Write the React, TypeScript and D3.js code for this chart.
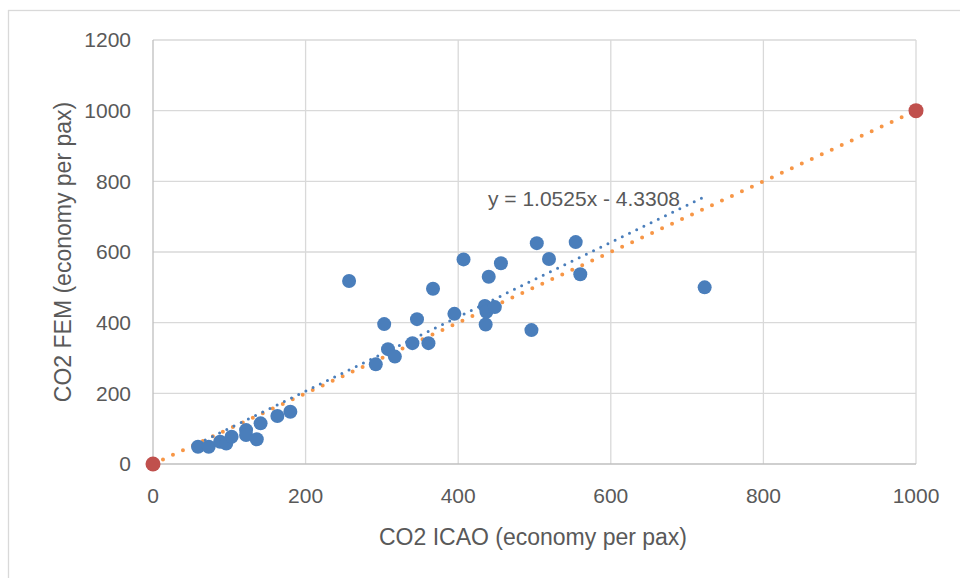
import React from 'react';
import * as d3 from 'd3';

// CO2 ICAO vs CO2 FEM (economy per pax)
const icaoValues = [59, 73, 88, 96, 103, 122, 122, 136, 141, 163, 180, 257, 292, 303, 308, 317, 340, 346, 361, 367, 395, 407, 435, 436, 437, 440, 448, 456, 496, 503, 519, 554, 560, 723];
const femValues = [49, 49, 63, 58, 77, 96, 82, 70, 115, 136, 148, 518, 282, 396, 325, 304, 342, 410, 342, 496, 425, 579, 447, 395, 431, 530, 444, 568, 379, 625, 580, 628, 537, 500];

// reference series (1:1 line)
const refX = [0, 1000];
const refY = [0, 1000];

const slope = 1.0525;
const intercept = -4.3308;
const trendLabel = 'y = 1.0525x - 4.3308';

const xTicks = [0, 200, 400, 600, 800, 1000];
const yTicks = [0, 200, 400, 600, 800, 1000, 1200];

const width = 960;
const height = 578;
const font = '"Liberation Sans", Arial, sans-serif';
const textColor = '#595959';

export default function App() {
  const x = d3.scaleLinear().domain([0, 1000]).range([153, 916]);
  const y = d3.scaleLinear().domain([0, 1200]).range([464, 40]);

  const line = d3.line<[number, number]>()
    .x(d => x(d[0]))
    .y(d => y(d[1]));

  const xMin = d3.min(icaoValues) as number;
  const xMax = d3.max(icaoValues) as number;
  const trendPts: [number, number][] = [
    [xMin, slope * xMin + intercept],
    [xMax, slope * xMax + intercept]
  ];
  const refPts: [number, number][] = refX.map((v, i) => [v, refY[i]]);

  return (
    <svg width={width} height={height} style={{ position: 'absolute', left: 0, top: 0, background: '#fff' }}>
      {/* chart border */}
      <rect x={8.5} y={10.5} width={960} height={600} fill="white" stroke="#d9d9d9" strokeWidth={1.3} />

      {/* gridlines */}
      {xTicks.slice(1).map(t => (
        <line key={'gx' + t} x1={x(t)} x2={x(t)} y1={y(1200)} y2={y(0)} stroke="#d9d9d9" strokeWidth={1.3} />
      ))}
      {yTicks.slice(1).map(t => (
        <line key={'gy' + t} x1={x(0)} x2={x(1000)} y1={y(t)} y2={y(t)} stroke="#d9d9d9" strokeWidth={1.3} />
      ))}
      {/* axes */}
      <line x1={x(0)} x2={x(0)} y1={y(1200)} y2={y(0)} stroke="#bfbfbf" strokeWidth={1.3} />
      <line x1={x(0)} x2={x(1000)} y1={y(0)} y2={y(0)} stroke="#bfbfbf" strokeWidth={1.3} />

      {/* tick labels */}
      {xTicks.map(t => (
        <text key={'tx' + t} x={x(t)} y={503} textAnchor="middle" fontFamily={font} fontSize={21} fill={textColor}>{t}</text>
      ))}
      {yTicks.map(t => (
        <text key={'ty' + t} x={131} y={y(t)} dy="0.35em" textAnchor="end" fontFamily={font} fontSize={21} fill={textColor}>{t}</text>
      ))}

      {/* axis titles */}
      <text x={533} y={545} textAnchor="middle" fontFamily={font} fontSize={23} fill={textColor}>CO2 ICAO (economy per pax)</text>
      <text transform={`translate(71,252) rotate(-90)`} textAnchor="middle" fontFamily={font} fontSize={23} fill={textColor}>CO2 FEM (economy per pax)</text>

      {/* trend lines */}
      <path d={line(refPts) || ''} fill="none" stroke="#f79646" strokeWidth={4} strokeLinecap="round" strokeDasharray="0 11" />
      <path d={line(trendPts) || ''} fill="none" stroke="#4a7ebb" strokeWidth={3} strokeLinecap="round" strokeDasharray="0 8" />

      {/* data points */}
      {icaoValues.map((v, i) => (
        <circle key={'p' + i} cx={x(v)} cy={y(femValues[i])} r={7} fill="#4a7ebb" />
      ))}
      {refX.map((v, i) => (
        <circle key={'r' + i} cx={x(v)} cy={y(refY[i])} r={7.5} fill="#c0504d" />
      ))}

      {/* trendline equation */}
      <text x={584} y={206} textAnchor="middle" fontFamily={font} fontSize={21} fill={textColor}>{trendLabel}</text>
    </svg>
  );
}
